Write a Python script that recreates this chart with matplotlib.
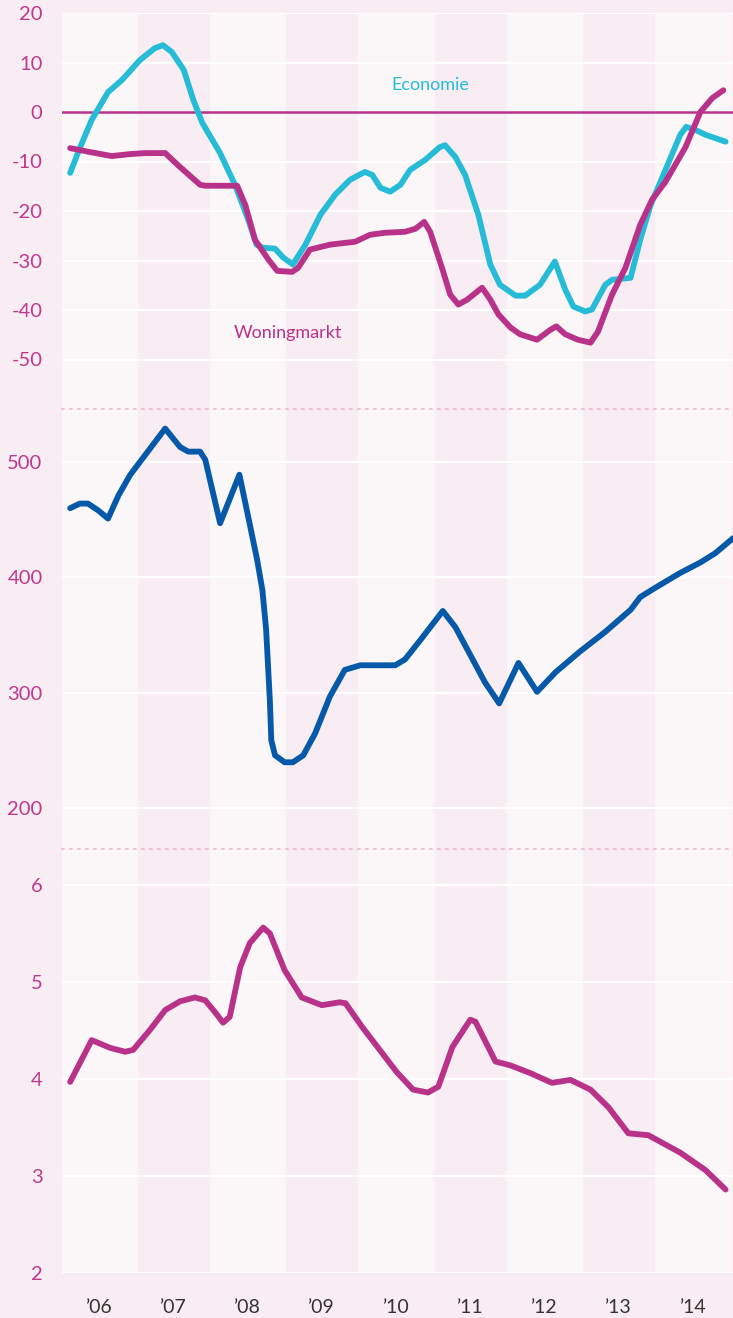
import matplotlib
matplotlib.use("Agg")
import matplotlib.pyplot as plt

# ---------------- data ----------------
eco_t = [2006.11, 2006.24, 2006.40, 2006.62, 2006.81, 2007.05, 2007.25, 2007.36, 2007.48,
         2007.64, 2007.77, 2007.89, 2008.13, 2008.33, 2008.51, 2008.62, 2008.70, 2008.87,
         2008.98, 2009.11, 2009.28, 2009.48, 2009.68, 2009.88, 2010.08, 2010.18, 2010.29,
         2010.42, 2010.56, 2010.69, 2010.89, 2011.09, 2011.16, 2011.30, 2011.43, 2011.61,
         2011.77, 2011.90, 2012.11, 2012.24, 2012.44, 2012.64, 2012.78, 2012.89, 2013.05,
         2013.14, 2013.32, 2013.41, 2013.66, 2013.79, 2013.93, 2014.13, 2014.33, 2014.41,
         2014.53, 2014.67, 2014.94]
eco_v = [-12.3, -7.3, -1.6, 4.0, 6.5, 10.5, 12.9, 13.5, 12.1,
         8.5, 2.4, -2.2, -8.3, -14.7, -21.8, -26.8, -27.4, -27.6,
         -29.4, -30.8, -26.8, -20.8, -16.7, -13.7, -12.1, -12.7, -15.3,
         -16.1, -14.7, -11.7, -9.7, -7.1, -6.7, -9.1, -12.7, -20.8,
         -30.8, -34.9, -37.1, -37.1, -34.9, -30.2, -35.9, -39.3, -40.3,
         -39.9, -34.9, -33.9, -33.5, -25.8, -18.8, -11.7, -4.6, -3.0,
         -3.6, -4.6, -6.0]

won_t = [2006.11, 2006.38, 2006.67, 2006.92, 2007.12, 2007.39, 2007.56, 2007.86, 2007.93,
         2008.36, 2008.47, 2008.60, 2008.78, 2008.90, 2009.10, 2009.18, 2009.34, 2009.61,
         2009.95, 2010.15, 2010.35, 2010.62, 2010.76, 2010.88, 2010.96, 2011.12, 2011.23,
         2011.34, 2011.46, 2011.66, 2011.77, 2011.88, 2012.04, 2012.17, 2012.40, 2012.58,
         2012.66, 2012.78, 2012.95, 2013.12, 2013.22, 2013.41, 2013.59, 2013.79, 2013.95,
         2014.13, 2014.40, 2014.60, 2014.76, 2014.91]
won_v = [-7.3, -8.1, -8.9, -8.5, -8.3, -8.3, -10.7, -14.7, -14.9,
         -14.9, -18.8, -25.8, -29.8, -32.1, -32.3, -31.5, -27.8, -26.8,
         -26.2, -24.8, -24.4, -24.2, -23.6, -22.2, -24.2, -31.5, -36.9,
         -38.9, -37.9, -35.5, -37.9, -40.9, -43.5, -44.9, -46.0, -44.0,
         -43.3, -44.9, -46.0, -46.6, -44.4, -36.9, -31.5, -22.8, -17.7,
         -14.1, -7.1, 0.0, 2.8, 4.4]

prijs_t = [2006.11, 2006.24, 2006.35, 2006.49, 2006.62, 2006.76, 2006.92, 2007.12, 2007.39,
           2007.59, 2007.70, 2007.86, 2007.93, 2008.13, 2008.39, 2008.53, 2008.63, 2008.70,
           2008.75, 2008.80, 2008.82, 2008.87, 2009.00, 2009.11, 2009.25, 2009.41, 2009.61,
           2009.81, 2010.02, 2010.24, 2010.49, 2010.62, 2010.83, 2011.13, 2011.30, 2011.50,
           2011.70, 2011.89, 2012.15, 2012.40, 2012.65, 2012.98, 2013.32, 2013.66, 2013.79,
           2013.99, 2014.33, 2014.60, 2014.80, 2015.04]
prijs_v = [460, 464, 464, 458, 451, 471, 489, 506, 529,
           513, 509, 509, 502, 447, 489, 446, 415, 389,
           355, 294, 259, 246, 240, 240, 246, 265, 297,
           320, 324, 324, 324, 329, 346, 371, 357, 333,
           309, 291, 326, 301, 318, 336, 353, 372, 383,
           391, 404, 413, 421, 434]

rente_t = [2006.11, 2006.40, 2006.65, 2006.85, 2006.96, 2007.19, 2007.39, 2007.59, 2007.79,
           2007.93, 2008.07, 2008.17, 2008.26, 2008.40, 2008.53, 2008.71, 2008.80, 2009.00,
           2009.23, 2009.50, 2009.74, 2009.82, 2010.04, 2010.28, 2010.51, 2010.73, 2010.93,
           2011.07, 2011.26, 2011.50, 2011.57, 2011.84, 2012.04, 2012.31, 2012.60, 2012.85,
           2013.12, 2013.36, 2013.63, 2013.90, 2014.33, 2014.67, 2014.94]
rente_v = [3.97, 4.40, 4.32, 4.28, 4.30, 4.51, 4.71, 4.80, 4.84,
           4.81, 4.68, 4.58, 4.64, 5.15, 5.40, 5.56, 5.50, 5.12,
           4.84, 4.76, 4.79, 4.78, 4.54, 4.30, 4.07, 3.89, 3.86,
           3.92, 4.33, 4.61, 4.59, 4.18, 4.14, 4.06, 3.96, 3.99,
           3.89, 3.71, 3.44, 3.42, 3.24, 3.06, 2.86]

years = list(range(2006, 2016))
year_labels = ["’06", "’07", "’08", "’09", "’10", "’11", "’12", "’13", "’14"]
top_ticks = [20, 10, 0, -10, -20, -30, -40, -50]
mid_ticks = [200, 300, 400, 500]
bot_ticks = [2, 3, 4, 5, 6]

# ---------------- style ----------------
FONT = ["Lato", "DejaVu Sans"]
plt.rcParams["font.family"] = FONT
OUTER = "#f8edf3"
LIGHT = "#fbf7f9"
DARK = "#f8edf3"
MAG = "#b9328a"
CYAN = "#26bcd7"
BLUE = "#0659a9"
SEP = "#f0bfd3"
TICKC = "#c0388d"

W, H = 733, 1318
fig = plt.figure(figsize=(W / 100, H / 100), dpi=100, facecolor=OUTER)

XL = (2006.0, 2015.04)
left = 62 / W
width = 1 - left


def make_ax(y_top, y_bot, ylim, ticks):
    ax = fig.add_axes([left, (H - y_bot) / H, width, (y_bot - y_top) / H])
    ax.set_facecolor(LIGHT)
    ax.set_xlim(*XL)
    ax.set_ylim(*ylim)
    for yr in years:
        col = DARK if (yr - 2006) % 2 == 1 else LIGHT
        ax.axvspan(yr + 0.02, yr + 0.99, color=col, lw=0, zorder=0)
    for t in ticks:
        ax.axhline(t, color="white", lw=1.6, zorder=1)
    ax.set_yticks(ticks)
    ax.set_yticklabels([str(t) for t in ticks])
    ax.tick_params(axis="y", length=0, pad=14, labelsize=14.5, labelcolor=TICKC)
    ax.tick_params(axis="x", length=0)
    ax.set_xticks([])
    for s in ax.spines.values():
        s.set_visible(False)
    return ax


ax1 = make_ax(13, 409, (-60, 20), top_ticks)
ax2 = make_ax(409, 849, (164.9, 545.9), mid_ticks)
ax3 = make_ax(849, 1273, (2, 6.37), bot_ticks)

lw = 4.2
kw = dict(lw=lw, solid_capstyle="round", solid_joinstyle="round")
ax1.axhline(0, color=MAG, lw=1.8, zorder=2)
ax1.plot(eco_t, eco_v, color=CYAN, zorder=3, **kw)
ax1.plot(won_t, won_v, color=MAG, zorder=4, **kw)
ax1.text(2010.44, 5.4, "Economie", color=CYAN, fontsize=13, ha="left", va="center", zorder=5)
ax1.text(2008.32, -44.6, "Woningmarkt", color=MAG, fontsize=13, ha="left", va="center", zorder=5)

ax2.plot(prijs_t, prijs_v, color=BLUE, zorder=3, **kw)
ax3.plot(rente_t, rente_v, color=MAG, zorder=3, **kw)

# dotted separators between panels
for ax in (ax2, ax3):
    sp = ax.spines["top"]
    sp.set_visible(True)
    sp.set_color(SEP)
    sp.set_linestyle((0, (0.8, 2.8)))
    sp.set_linewidth(1.6)
    sp.set_capstyle("round")
    sp.set_zorder(6)

# year labels
ax3.set_xticks([y + 0.5 for y in years[:-1]])
ax3.set_xticklabels(year_labels)
ax3.tick_params(axis="x", length=0, pad=19, labelsize=14, labelcolor="#333333")

fig.savefig("out.png", dpi=100, facecolor=OUTER)
